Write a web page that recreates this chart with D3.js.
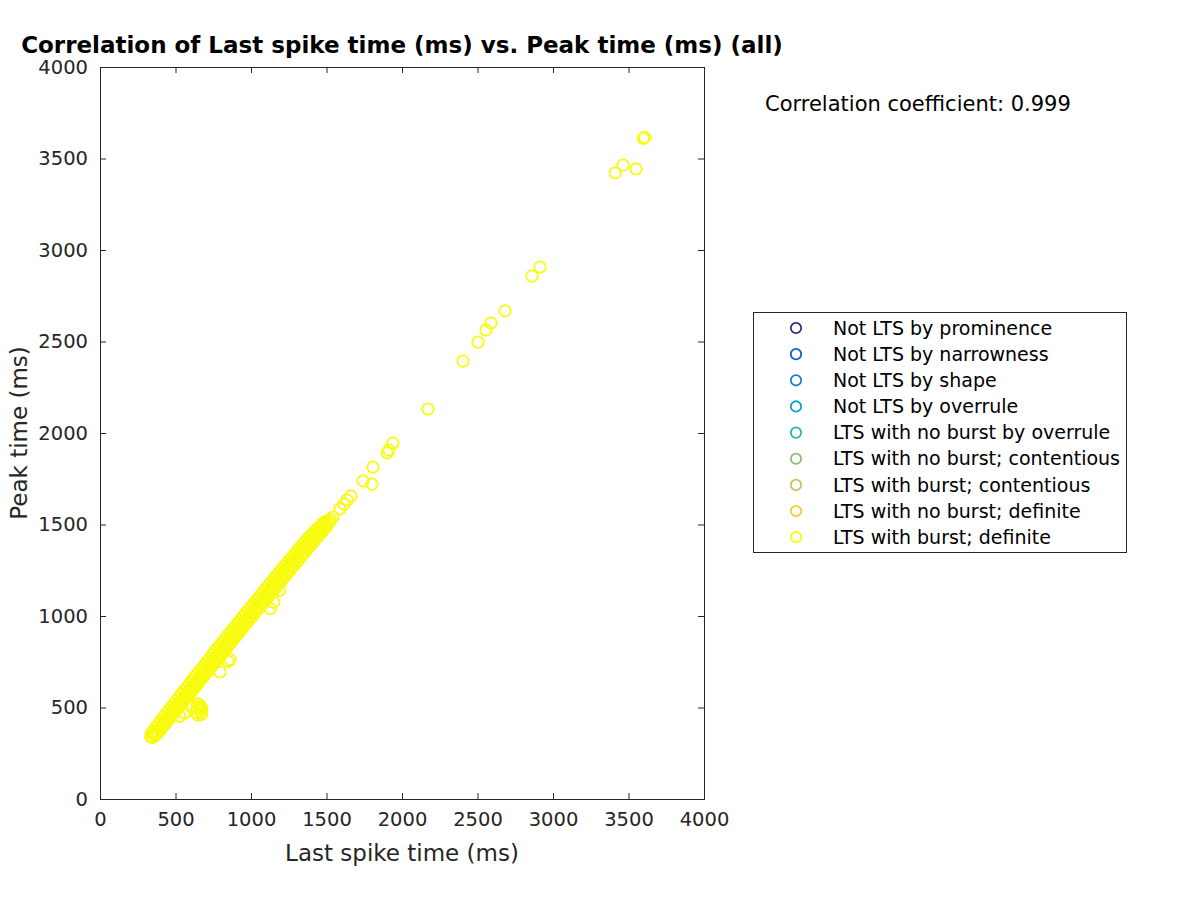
<!DOCTYPE html>
<html>
<head>
<meta charset="utf-8">
<script src="https://cdn.jsdelivr.net/npm/d3@7"></script>
<style>
  html, body { margin: 0; padding: 0; background: #fff; }
  svg { display: block; font-family: "DejaVu Sans", sans-serif; }
</style>
</head>
<body>
<svg id="chart" width="1200" height="900"></svg>
<script>
// ---- data ----
const titleText = "Correlation of Last spike time (ms) vs. Peak time (ms) (all)";
const xLabel = "Last spike time (ms)";
const yLabel = "Peak time (ms)";
const corrText = "Correlation coefficient: 0.999";
const xTicks = [0, 500, 1000, 1500, 2000, 2500, 3000, 3500, 4000];
const yTicks = [0, 500, 1000, 1500, 2000, 2500, 3000, 3500, 4000];
const categories = [
  "Not LTS by prominence",
  "Not LTS by narrowness",
  "Not LTS by shape",
  "Not LTS by overrule",
  "LTS with no burst by overrule",
  "LTS with no burst; contentious",
  "LTS with burst; contentious",
  "LTS with no burst; definite",
  "LTS with burst; definite"
];
const categoryColors = ["#352A87", "#0F5CDD", "#1481D6", "#06A4CA", "#2EB7A4", "#87BF77", "#D1BB59", "#FEC832", "#F9FB0E"];

// Last spike time (ms) for every plotted cell (all in "LTS with burst; definite")
const lastSpike = [
  336,342,347,353,358,364,370,375,381,387,392,398,404,409,415,421,426,432,438,443,
  449,455,460,466,472,477,483,489,494,500,506,511,517,523,528,534,540,545,551,557,
  562,568,574,579,585,591,596,602,608,613,619,625,630,636,642,647,653,659,664,670,
  676,681,687,693,698,704,710,715,721,727,732,738,744,749,755,761,766,772,778,783,
  789,795,800,806,812,817,823,829,834,840,846,851,857,863,868,874,880,885,891,897,
  902,908,914,919,925,931,936,942,948,953,959,965,970,976,982,987,993,999,1004,1010,
  1016,1021,1027,1033,1038,1044,1050,1055,1061,1067,1072,1078,1084,1089,1095,1101,1106,1112,1118,1123,
  1129,1135,1140,1146,1152,1157,1163,1169,1174,1180,1186,1191,1197,1203,1208,1214,1220,1225,1231,1237,
  1242,1248,1254,1259,1265,1271,1276,1282,1288,1293,1299,1305,1310,1316,1322,1327,1333,1339,1344,1350,
  1356,1361,1367,1373,1378,1384,1390,1395,1401,1407,1412,1418,1424,1429,1435,1441,1446,1452,1458,1463,
  1469,1475,1480,1486,1492,1497,1503,1510,1518,1525,
  528,560,600,636,642,650,658,665,672,675,668,646,
  795,848,862,1128,1150,1190,
  1543,1589,1616,1636,1662,1742,1801,1808,1901,1914,1940,
  2172,2404,2503,2556,2589,2682,2861,2914,3411,3464,3550,3598,3608
];
// Peak time (ms), same order
const peakTime = [
  340,362,335,370,352,345,392,368,360,410,385,376,428,402,395,448,420,410,466,437,
  428,484,455,446,502,472,463,520,490,480,538,508,498,556,525,515,574,542,532,592,
  560,550,610,578,566,628,595,584,646,612,600,664,630,618,682,648,636,700,665,652,
  716,682,670,734,700,688,752,716,704,770,734,722,788,752,740,806,770,758,824,788,
  776,840,805,792,858,822,810,876,840,828,894,858,846,910,875,862,928,892,880,946,
  910,898,962,928,914,980,945,932,998,962,950,1015,980,966,1032,998,984,1050,1015,1000,
  1066,1032,1018,1084,1050,1036,1100,1068,1052,1118,1085,1070,1135,1102,1086,1152,1120,1104,1170,1137,
  1120,1186,1154,1138,1204,1172,1154,1220,1188,1172,1238,1206,1190,1254,1222,1206,1272,1240,1224,1288,
  1256,1240,1305,1274,1258,1322,1290,1274,1338,1308,1290,1356,1324,1308,1372,1342,1324,1388,1358,1342,
  1404,1376,1358,1420,1392,1376,1436,1410,1392,1450,1426,1410,1465,1442,1426,1478,1458,1444,1490,1474,
  1460,1504,1488,1476,1516,1502,1492,1520,1514,1528,
  452,470,505,470,500,458,515,478,462,492,505,520,
  694,752,762,1040,1075,1140,
  1541,1585,1612,1634,1656,1738,1721,1814,1891,1907,1945,
  2131,2393,2497,2563,2601,2667,2858,2907,3421,3464,3443,3610,3615
];

(function () {
  const svg = d3.select("#chart");
  const W = 1200, H = 900;
  const mLeft = 100, mRight = 704, mTop = 67, mBottom = 799;
  const axisColor = "#262626";

  svg.append("rect").attr("width", W).attr("height", H).attr("fill", "#fff");

  const x = d3.scaleLinear().domain([0, 4000]).range([mLeft, mRight]);
  const y = d3.scaleLinear().domain([0, 4000]).range([mBottom, mTop]);

  // points
  const pts = lastSpike.map((v, i) => ({ x: v, y: peakTime[i] }));
  svg.append("g")
    .selectAll("circle")
    .data(pts)
    .join("circle")
    .attr("cx", d => x(d.x))
    .attr("cy", d => y(d.y))
    .attr("r", 5.7)
    .attr("fill", "none")
    .attr("stroke", categoryColors[8])
    .attr("stroke-width", 1.8);

  // axes
  const tickFont = "19.5px";
  const gx = svg.append("g").attr("transform", `translate(0,${mBottom})`)
    .call(d3.axisBottom(x).tickValues(xTicks).tickSize(-6).tickPadding(13).tickFormat(d3.format("d")));
  const gy = svg.append("g").attr("transform", `translate(${mLeft},0)`)
    .call(d3.axisLeft(y).tickValues(yTicks).tickSize(-6).tickPadding(12).tickFormat(d3.format("d")));
  const gxt = svg.append("g").attr("transform", `translate(0,${mTop})`)
    .call(d3.axisTop(x).tickValues(xTicks).tickSize(-6).tickFormat(""));
  const gyr = svg.append("g").attr("transform", `translate(${mRight},0)`)
    .call(d3.axisRight(y).tickValues(yTicks).tickSize(-6).tickFormat(""));

  [gx, gy, gxt, gyr].forEach(g => {
    g.select(".domain").attr("stroke", axisColor).attr("stroke-width", 1);
    g.selectAll(".tick line").attr("stroke", axisColor).attr("stroke-width", 1);
    g.selectAll(".tick text").attr("fill", axisColor).style("font-size", tickFont)
      .style("font-family", "'DejaVu Sans', sans-serif");
  });

  // axis labels
  svg.append("text")
    .attr("x", (mLeft + mRight) / 2).attr("y", 861)
    .attr("text-anchor", "middle")
    .attr("fill", axisColor).style("font-size", "23px")
    .text(xLabel);
  svg.append("text")
    .attr("transform", `translate(27,${(mTop + mBottom) / 2}) rotate(-90)`)
    .attr("text-anchor", "middle")
    .attr("fill", axisColor).style("font-size", "23px")
    .text(yLabel);

  // title
  svg.append("text")
    .attr("x", (mLeft + mRight) / 2).attr("y", 53)
    .attr("text-anchor", "middle")
    .attr("fill", "#000").style("font-size", "23px").style("font-weight", "bold")
    .text(titleText);

  // correlation text
  svg.append("text")
    .attr("x", 765).attr("y", 111)
    .attr("fill", "#000").style("font-size", "21px")
    .text(corrText);

  // legend
  const lg = svg.append("g");
  lg.append("rect")
    .attr("x", 753.5).attr("y", 312.5).attr("width", 373).attr("height", 240)
    .attr("fill", "#fff").attr("stroke", axisColor).attr("stroke-width", 1);
  const rows = lg.selectAll("g.row").data(categories).join("g")
    .attr("class", "row")
    .attr("transform", (d, i) => `translate(0,${328 + i * 26.15})`);
  rows.append("circle")
    .attr("cx", 796).attr("cy", 0).attr("r", 5.2)
    .attr("fill", "none")
    .attr("stroke", (d, i) => categoryColors[i])
    .attr("stroke-width", 1.8);
  rows.append("text")
    .attr("x", 833).attr("y", 0).attr("dy", "0.35em")
    .attr("fill", "#000").style("font-size", "19px")
    .text(d => d);
})();
</script>
</body>
</html>
